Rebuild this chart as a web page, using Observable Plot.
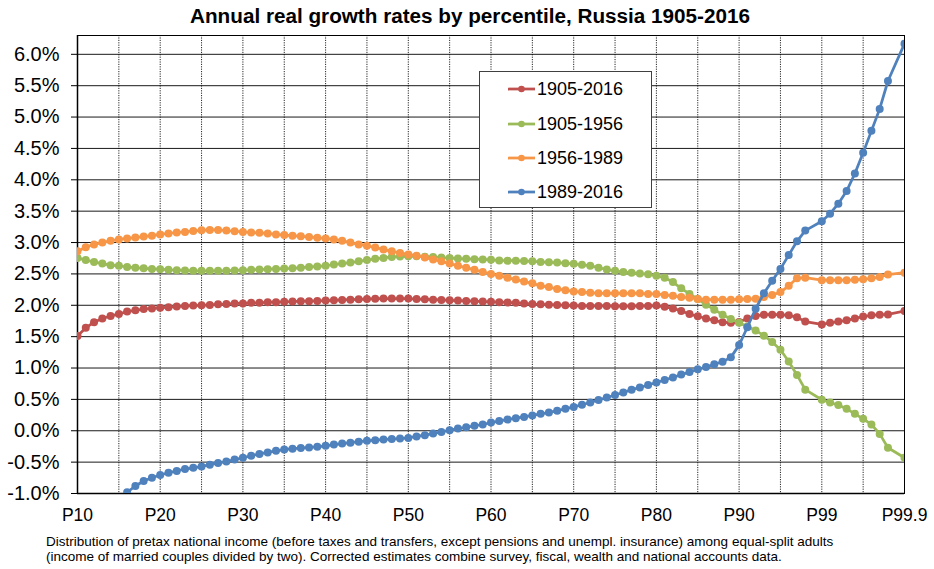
<!DOCTYPE html>
<html>
<head>
<meta charset="utf-8">
<script src="https://cdn.jsdelivr.net/npm/d3@7"></script>
<script src="https://cdn.jsdelivr.net/npm/@observablehq/plot@0.6"></script>
<style>
  html, body { margin: 0; padding: 0; background: #fff; }
  #wrap { position: relative; width: 934px; height: 569px; font-family: "Liberation Sans", Arial, sans-serif; color: #000; overflow: hidden; }
  #title { position: absolute; left: 3px; top: 5px; width: 934px; text-align: center; font-size: 20.7px; line-height: 21px; font-weight: bold; }
  #chart { position: absolute; left: 0; top: 0; }
  #legend { position: absolute; left: 479px; top: 71px; width: 171px; height: 135px; border: 1px solid #404040; background: #fff; }
  .row { position: absolute; left: 0; height: 20px; display: flex; align-items: center; }
  .row svg { margin-left: 28px; }
  .row span { font-size: 18px; line-height: 20px; margin-left: 2px; }
  #caption { position: absolute; left: 46px; top: 534px; font-size: 13.5px; line-height: 15px; white-space: nowrap; }
</style>
</head>
<body>
<div id="wrap">
  <div id="chart"></div>
  <div id="title"></div>
  <div id="legend"></div>
  <div id="caption"></div>
</div>
<script>
// ---- Data ----
const titleText = "Annual real growth rates by percentile, Russia 1905-2016";
const captionLines = [
  "Distribution of pretax national income (before taxes and transfers, except pensions and unempl. insurance) among equal-split adults",
  "(income of married couples divided by two). Corrected estimates combine survey, fiscal, wealth and national accounts data."
];
// category positions along the axis (empty strings are empty category slots)
const percentiles = [
  "P10","P11","P12","P13","P14","P15","P16","P17","P18","P19",
  "P20","P21","P22","P23","P24","P25","P26","P27","P28","P29",
  "P30","P31","P32","P33","P34","P35","P36","P37","P38","P39",
  "P40","P41","P42","P43","P44","P45","P46","P47","P48","P49",
  "P50","P51","P52","P53","P54","P55","P56","P57","P58","P59",
  "P60","P61","P62","P63","P64","P65","P66","P67","P68","P69",
  "P70","P71","P72","P73","P74","P75","P76","P77","P78","P79",
  "P80","P81","P82","P83","P84","P85","P86","P87","P88","P89",
  "P90","P91","P92","P93","P94","P95","P96","P97","P98","",
  "P99","P99.1","P99.2","P99.3","P99.4","P99.5","P99.6","P99.7","P99.8","",
  "P99.9"
];
const tickLabels = ["P10","P20","P30","P40","P50","P60","P70","P80","P90","P99","P99.9"];
const seriesNames = ["1905-2016","1905-1956","1956-1989","1989-2016"];
const seriesColors = ["#C0504D","#9BBB59","#F79646","#4F81BD"];

const g1905_2016 = [
  1.51,1.64,1.73,1.79,1.83,1.86,1.90,1.92,1.94,1.95,
  1.96,1.97,1.98,1.99,1.995,2.00,2.005,2.015,2.02,2.03,
  2.03,2.04,2.04,2.05,2.05,2.055,2.06,2.065,2.065,2.07,
  2.075,2.08,2.085,2.09,2.095,2.10,2.105,2.107,2.107,2.107,
  2.107,2.10,2.095,2.09,2.085,2.08,2.075,2.07,2.065,2.06,
  2.055,2.05,2.045,2.04,2.03,2.02,2.015,2.01,2.005,2.00,
  1.995,1.99,1.99,1.99,1.99,1.985,1.985,1.985,1.99,1.99,
  1.995,1.975,1.95,1.91,1.86,1.825,1.79,1.76,1.73,1.72,
  1.735,1.79,1.83,1.85,1.85,1.85,1.84,1.81,1.74,null,
  1.695,1.72,1.74,1.76,1.79,1.82,1.84,1.85,1.855,null,
  1.91
];
const g1905_1956 = [
  2.755,2.72,2.69,2.665,2.64,2.63,2.61,2.60,2.59,2.58,
  2.575,2.565,2.56,2.555,2.55,2.55,2.55,2.55,2.55,2.555,
  2.56,2.565,2.57,2.575,2.58,2.585,2.59,2.60,2.61,2.62,
  2.63,2.65,2.665,2.68,2.70,2.72,2.74,2.755,2.77,2.777,
  2.78,2.78,2.775,2.77,2.76,2.755,2.745,2.74,2.735,2.73,
  2.725,2.715,2.71,2.71,2.705,2.70,2.69,2.685,2.68,2.67,
  2.66,2.645,2.63,2.60,2.57,2.55,2.53,2.52,2.505,2.495,
  2.47,2.44,2.37,2.27,2.18,2.10,2.01,1.93,1.85,1.78,
  1.72,1.66,1.60,1.515,1.415,1.29,1.105,0.89,0.655,null,
  0.495,0.45,0.41,0.35,0.27,0.19,0.10,-0.05,-0.27,null,
  -0.43
];
const g1956_1989 = [
  2.86,2.925,2.97,3.00,3.03,3.05,3.065,3.08,3.095,3.11,
  3.13,3.145,3.16,3.17,3.185,3.195,3.20,3.20,3.19,3.18,
  3.17,3.16,3.155,3.145,3.13,3.12,3.11,3.10,3.09,3.075,
  3.065,3.05,3.03,3.00,2.97,2.95,2.92,2.89,2.86,2.835,
  2.81,2.79,2.76,2.73,2.70,2.665,2.63,2.60,2.565,2.53,
  2.50,2.47,2.44,2.41,2.38,2.35,2.31,2.29,2.26,2.24,
  2.22,2.21,2.20,2.19,2.19,2.19,2.19,2.19,2.19,2.18,
  2.18,2.165,2.15,2.13,2.12,2.10,2.09,2.09,2.09,2.09,
  2.095,2.10,2.105,2.13,2.165,2.21,2.31,2.43,2.44,null,
  2.40,2.40,2.40,2.40,2.405,2.415,2.43,2.45,2.49,null,
  2.52
];
const g1989_2016 = [
  null,null,null,null,null,null,-0.98,-0.88,-0.80,-0.75,
  -0.705,-0.67,-0.64,-0.61,-0.59,-0.57,-0.54,-0.515,-0.49,-0.46,
  -0.43,-0.40,-0.37,-0.345,-0.32,-0.30,-0.285,-0.275,-0.265,-0.255,
  -0.24,-0.22,-0.205,-0.19,-0.175,-0.16,-0.15,-0.14,-0.13,-0.125,
  -0.115,-0.09,-0.07,-0.045,-0.02,0.01,0.035,0.055,0.08,0.10,
  0.13,0.155,0.18,0.20,0.22,0.245,0.27,0.29,0.32,0.35,
  0.38,0.415,0.45,0.49,0.53,0.57,0.61,0.655,0.69,0.73,
  0.77,0.81,0.85,0.895,0.935,0.98,1.015,1.06,1.10,1.17,
  1.365,1.65,1.945,2.19,2.39,2.58,2.80,3.02,3.19,null,
  3.34,3.46,3.62,3.82,4.10,4.43,4.78,5.13,5.575,null,
  6.17
];
const yTicks = [-1.0,-0.5,0.0,0.5,1.0,1.5,2.0,2.5,3.0,3.5,4.0,4.5,5.0,5.5,6.0];

// ---- Build ----
const seriesValues = [g1905_2016, g1905_1956, g1956_1989, g1989_2016];
const rowsFor = (k) => seriesValues[k]
  .map((v, i) => ({pos: i, label: percentiles[i], value: v, series: seriesNames[k]}))
  .filter(d => d.value != null);

const tickPos = tickLabels.map(l => percentiles.indexOf(l));

const seriesMarks = [];
seriesNames.forEach((name, k) => {
  const rows = rowsFor(k);
  seriesMarks.push(Plot.line(rows, {x: "pos", y: "value", stroke: seriesColors[k], strokeWidth: 2.75, clip: true}));
  seriesMarks.push(Plot.dot(rows, {x: "pos", y: "value", fill: seriesColors[k], r: 4, stroke: "none", clip: true}));
});

const chart = Plot.plot({
  width: 934,
  height: 530,
  marginTop: 35,
  marginBottom: 37,
  marginLeft: 77,
  marginRight: 30,
  style: {fontFamily: "'Liberation Sans', Arial, sans-serif", background: "transparent", color: "#000"},
  x: {domain: [0, percentiles.length - 1]},
  y: {domain: [-1, 6.3]},
  marks: [
    Plot.gridY(yTicks, {stroke: "#000", strokeOpacity: 0.9, strokeWidth: 1}),
    Plot.gridX(d3.range(0, percentiles.length, 5), {stroke: "#000", strokeOpacity: 0.85, strokeWidth: 1, strokeDasharray: "1.2,1.2"}),
    Plot.frame({stroke: "#000", strokeWidth: 1}),
    Plot.ruleX([0], {stroke: "#000", strokeWidth: 1.5}),
    Plot.ruleY([-1], {stroke: "#000", strokeWidth: 1.5}),
    Plot.axisY(yTicks, {tickSize: 6, tickPadding: 12, fontSize: 20, tickFormat: d => d.toFixed(1) + "%", label: null, stroke: "#000"}),
    Plot.axisX(tickPos, {tickSize: 0, tickPadding: 15, fontSize: 17.5, tickFormat: i => percentiles[i], label: null}),
    ...seriesMarks
  ]
});
document.getElementById("chart").appendChild(chart);

document.getElementById("title").textContent = titleText;

const cap = document.getElementById("caption");
captionLines.forEach(t => { const d = document.createElement("div"); d.textContent = t; cap.appendChild(d); });

const legend = document.getElementById("legend");
const rowTops = [7, 42, 76, 110];
seriesNames.forEach((name, k) => {
  const row = document.createElement("div");
  row.className = "row";
  row.style.top = rowTops[k] + "px";
  row.innerHTML = `<svg width="27" height="10"><line x1="0" y1="5" x2="27" y2="5" stroke="${seriesColors[k]}" stroke-width="2.75"/><circle cx="13.5" cy="5" r="3.3" fill="${seriesColors[k]}"/></svg><span></span>`;
  row.querySelector("span").textContent = name;
  legend.appendChild(row);
});
</script>
</body>
</html>
